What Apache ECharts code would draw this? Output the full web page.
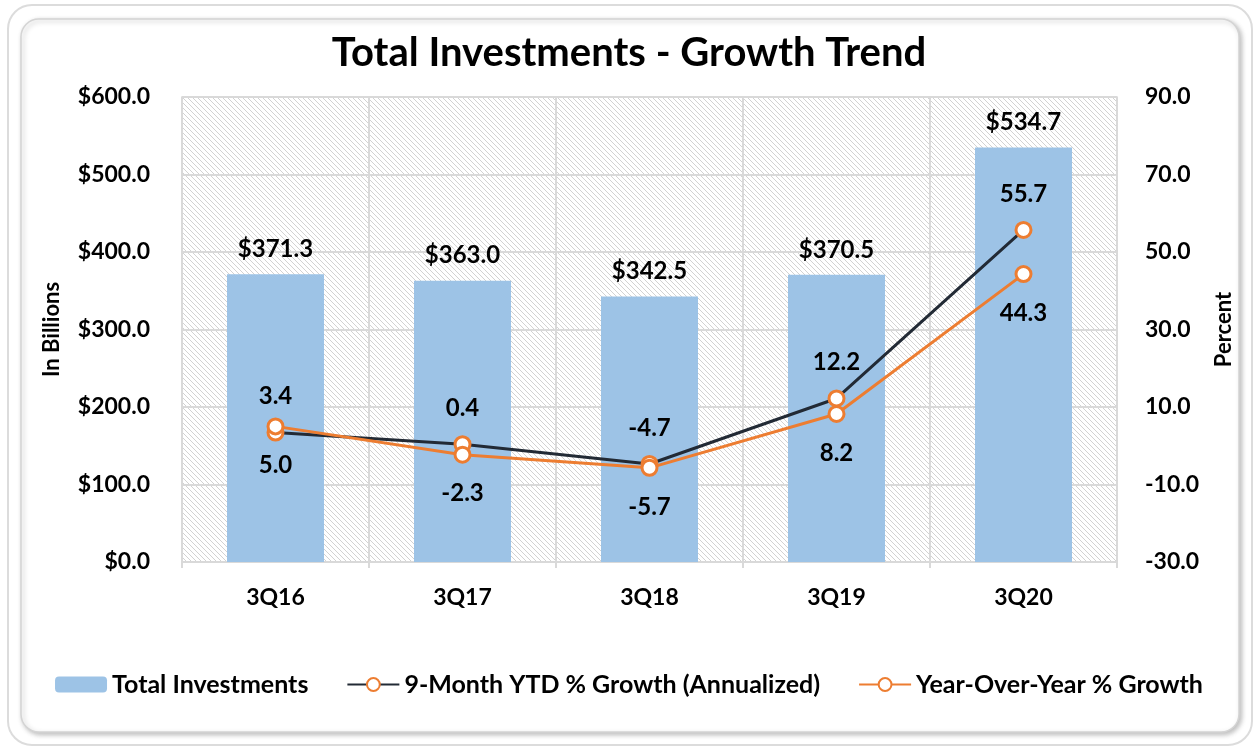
<!DOCTYPE html>
<html>
<head>
<meta charset="utf-8">
<title>Total Investments - Growth Trend</title>
<script src="https://cdn.jsdelivr.net/npm/echarts@6/dist/echarts.min.js"></script>
<style>
  html, body { margin: 0; padding: 0; background: #ffffff; }
  #chart { width: 1258px; height: 750px; }
</style>
</head>
<body>
<div id="chart"></div>
<script>
// Quarter labels
const categories = ['3Q16', '3Q17', '3Q18', '3Q19', '3Q20'];
// Total investments, in billions of dollars
const totalInvestments = [371.3, 363.0, 342.5, 370.5, 534.7];
// 9-month year-to-date growth, annualized (%)
const ytdGrowth = [3.4, 0.4, -4.7, 12.2, 55.7];
// Year-over-year growth (%)
const yoyGrowth = [5.0, -2.3, -5.7, 8.2, 44.3];

const FONT = 'Lato, "Open Sans", sans-serif';
const BLUE = '#9DC3E6';
const NAVY = '#222A35';
const ORANGE = '#ED7D31';
const GRID_GREY = '#d9d9d9';

// Diagonal hatch tile for the plot background
function hatchTile() {
  const s = 5;
  const c = document.createElement('canvas');
  c.width = s; c.height = s;
  const g = c.getContext('2d');
  g.fillStyle = '#ffffff';
  g.fillRect(0, 0, s, s);
  g.strokeStyle = '#d2d2d2';
  g.lineWidth = 1;
  g.beginPath();
  g.moveTo(-1, -1); g.lineTo(s + 1, s + 1);
  g.moveTo(-1, s - 1); g.lineTo(1, s + 1);
  g.moveTo(s - 1, -1); g.lineTo(s + 1, 1);
  g.stroke();
  return c;
}

const chart = echarts.init(document.getElementById('chart'), null, { renderer: 'canvas' });

const boldText = size => ({ color: '#000', fontFamily: FONT, fontWeight: 'bold', fontSize: size });

const lineLabel = (pos, dist) => Object.assign({
  show: true,
  position: pos,
  distance: dist,
  formatter: p => p.value.toFixed(1)
}, boldText(24));

chart.setOption({
  backgroundColor: '#ffffff',
  animation: false,
  graphic: [
    {
      type: 'rect', z: -10, silent: true,
      shape: { x: 8, y: 5, width: 1244, height: 740, r: 24 },
      style: { fill: '#ffffff', stroke: '#dcdcdc', lineWidth: 2 }
    },
    {
      type: 'rect', z: -9, silent: true,
      shape: { x: 21, y: 19, width: 1218, height: 713, r: 18 },
      style: {
        fill: '#ffffff', stroke: '#d4d4d4', lineWidth: 1.5,
        shadowBlur: 5, shadowOffsetX: 2, shadowOffsetY: 2, shadowColor: 'rgba(0,0,0,0.25)'
      }
    }
  ],
  title: {
    text: 'Total Investments - Growth Trend',
    left: 'center',
    top: 28,
    textStyle: boldText(40)
  },
  legend: {
    bottom: 48,
    left: 'center',
    itemWidth: 52,
    itemHeight: 16,
    itemGap: 38,
    textStyle: boldText(25),
    data: ['Total Investments', '9-Month YTD % Growth (Annualized)', 'Year-Over-Year % Growth']
  },
  grid: {
    left: 182, right: 141, top: 97, bottom: 188,
    show: true,
    backgroundColor: { image: hatchTile(), repeat: 'repeat' },
    borderColor: GRID_GREY,
    borderWidth: 1.5
  },
  xAxis: {
    type: 'category',
    data: categories,
    axisTick: { show: true, interval: 0, length: 6, lineStyle: { color: GRID_GREY, width: 2 } },
    axisLine: { lineStyle: { color: GRID_GREY, width: 2 } },
    splitLine: { show: true, interval: 0, lineStyle: { color: GRID_GREY, width: 2 } },
    axisLabel: Object.assign({ margin: 24 }, boldText(23))
  },
  yAxis: [
    {
      type: 'value',
      min: 0, max: 600, interval: 100,
      name: 'In Billions',
      nameLocation: 'middle',
      nameGap: 119,
      nameTextStyle: boldText(22),
      axisLine: { show: false },
      axisTick: { show: false },
      splitLine: { lineStyle: { color: GRID_GREY, width: 2 } },
      axisLabel: Object.assign({ margin: 32, formatter: v => '$' + v.toFixed(1) }, boldText(23))
    },
    {
      type: 'value',
      min: -30, max: 90, interval: 20,
      name: 'Percent',
      nameLocation: 'middle',
      nameGap: 96,
      nameRotate: 90,
      nameTextStyle: boldText(22),
      axisLine: { show: false },
      axisTick: { show: false },
      splitLine: { show: false },
      axisLabel: Object.assign({ margin: 28, formatter: v => v.toFixed(1) }, boldText(23))
    }
  ],
  series: [
    {
      name: 'Total Investments',
      type: 'bar',
      data: totalInvestments,
      barWidth: 97,
      itemStyle: { color: BLUE },
      label: Object.assign({
        show: true, position: 'top', distance: 13,
        formatter: p => '$' + p.value.toFixed(1)
      }, boldText(24)),
      z: 2
    },
    {
      name: '9-Month YTD % Growth (Annualized)',
      type: 'line',
      yAxisIndex: 1,
      data: ytdGrowth,
      symbol: 'circle',
      symbolSize: 15,
      lineStyle: { color: NAVY, width: 3 },
      itemStyle: { color: '#ffffff', borderColor: ORANGE, borderWidth: 3 },
      label: lineLabel('top', 15),
      z: 3
    },
    {
      name: 'Year-Over-Year % Growth',
      type: 'line',
      yAxisIndex: 1,
      data: yoyGrowth,
      symbol: 'circle',
      symbolSize: 15,
      lineStyle: { color: ORANGE, width: 3 },
      itemStyle: { color: '#ffffff', borderColor: ORANGE, borderWidth: 3 },
      label: lineLabel('bottom', 18),
      z: 4
    }
  ]
});
</script>
</body>
</html>
